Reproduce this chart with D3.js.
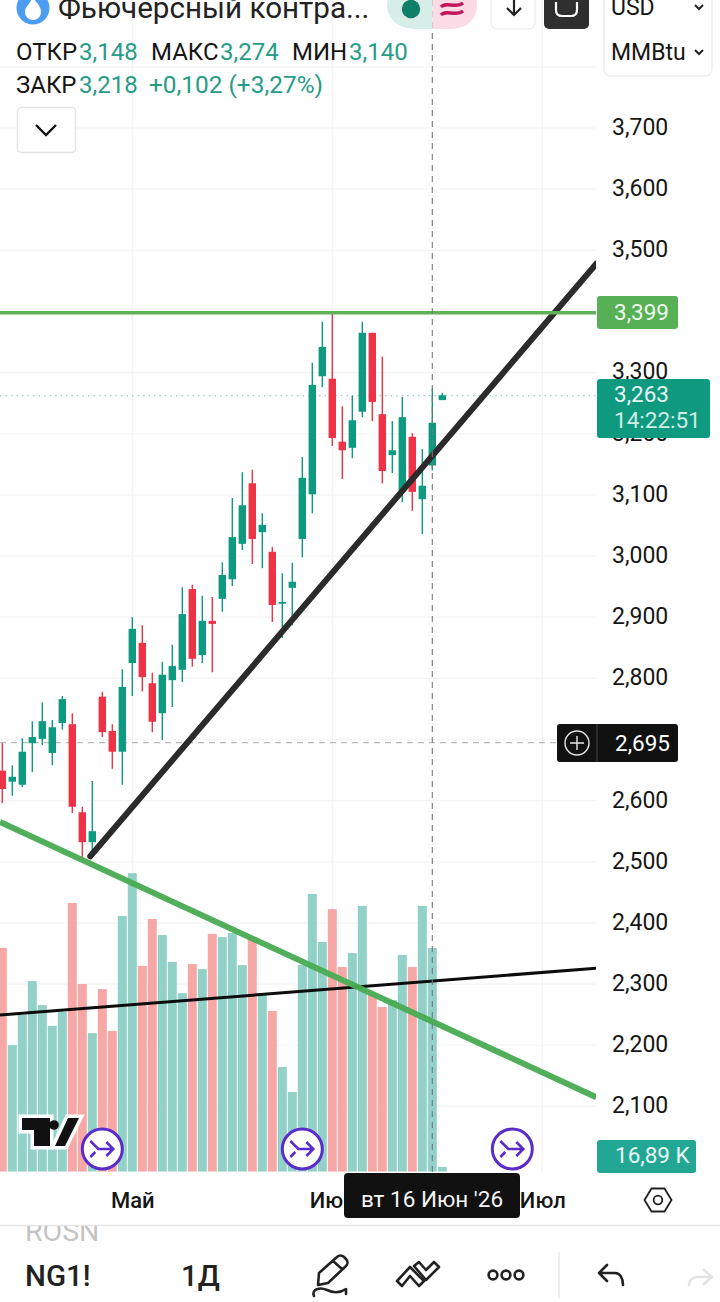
<!DOCTYPE html>
<html lang="ru">
<head>
<meta charset="utf-8">
<title>NG1!</title>
<script src="https://cdn.jsdelivr.net/npm/d3@7"></script>
<style>
html,body{margin:0;padding:0;background:#fff;overflow:hidden}
svg{display:block;font-family:Roboto,"Noto Sans",sans-serif}
</style>
</head>
<body>
<svg id="c" width="720" height="1302"></svg>
<script>
// ---- data ----
const opens  = [2.649,2.631,2.626,2.694,2.701,2.678,2.727,2.725,2.581,2.532,2.770,2.714,2.680,2.825,2.858,2.792,2.743,2.797,2.814,2.946,2.838,2.894,2.930,2.962,3.020,3.119,3.039,3.007,2.922,2.948,3.028,3.101,3.294,3.290,3.187,3.177,3.236,3.365,3.232,3.165,3.106,3.195,3.093,3.148,3.255];
const highs  = [2.694,2.658,2.702,2.730,2.761,2.732,2.771,2.743,2.590,2.632,2.778,2.725,2.815,2.900,2.887,2.809,2.827,2.855,2.949,2.953,2.935,2.933,2.990,3.095,3.137,3.141,3.070,3.015,2.972,2.989,3.162,3.316,3.383,3.397,3.245,3.262,3.383,3.365,3.326,3.221,3.260,3.201,3.175,3.274,3.267];
const lows   = [2.596,2.608,2.622,2.647,2.691,2.658,2.716,2.580,2.506,2.508,2.704,2.652,2.626,2.771,2.779,2.712,2.699,2.753,2.794,2.819,2.825,2.810,2.909,2.951,3.010,2.987,2.980,2.892,2.866,2.887,2.998,3.070,3.276,3.180,3.126,3.160,3.227,3.221,3.119,3.136,3.088,3.074,3.036,3.140,3.255];
const closes = [2.619,2.639,2.680,2.704,2.730,2.720,2.766,2.590,2.532,2.550,2.712,2.680,2.786,2.881,2.802,2.729,2.806,2.820,2.905,2.832,2.894,2.889,2.969,3.031,3.083,3.028,3.051,2.920,2.925,2.958,3.128,3.280,3.342,3.193,3.173,3.222,3.365,3.252,3.139,3.173,3.227,3.105,3.115,3.218,3.263];
const volumes = [839,474,587,714,624,546,598,1007,703,519,684,527,958,1119,771,947,887,786,669,778,759,891,879,894,774,879,669,602,392,298,774,1041,861,984,767,819,996,662,617,643,812,767,996,838,16.89];

const priceTicks = [3.7,3.6,3.5,3.4,3.3,3.2,3.1,3.0,2.9,2.8,2.7,2.6,2.5,2.4,2.3,2.2,2.1];
const gridPrices = [3.8,3.7,3.6,3.5,3.4,3.3,3.2,3.1,3.0,2.9,2.8,2.7,2.6,2.5,2.4,2.3,2.2,2.1];
const monthTickIndex = [13,33,54];
const monthTickLabels = ["Май","Июн","Июл"];
const eventIndex = [10,30,51];

const levelPrice = 3.399;
const lastPrice = 3.263;
const crosshairPrice = 2.695;
const crosshairIndex = 43;
const thickBlackTrend = [[8.8,2.509],[59.4,3.478]];
const greenTrend = [[-0.23,2.565],[59.4,2.115]];
const thinBlackTrend = [[-0.23,2.2495],[59.4,2.326]];

const legendRow1 = [["ОТКР","3,148"],["МАКС","3,274"],["МИН","3,140"]];
const legendRow2 = ["ЗАКР","3,218","+0,102 (+3,27%)"];

// ---- scales ----
const x = d3.scaleLinear().domain([0,44]).range([2.3,442.3]);
const y = d3.scaleLinear().domain([3.7,2.1]).range([128,1106.4]);
const v = d3.scaleLinear().domain([0,1200]).range([1171.5,851.5]);

const UP="#0d9a80", DOWN="#ee3347", VUP="#92d1c7", VDOWN="#f7a8a6", INK="#161616";
const fmt = p => d3.format(".3f")(p).replace(".",",");
const idx = d3.range(opens.length);

const svg = d3.select("#c");
const defs = svg.append("defs");
defs.append("clipPath").attr("id","plot").append("rect").attr("x",0).attr("y",0).attr("width",596).attr("height",1172);

// ---- grid ----
const grid = svg.append("g");
grid.selectAll("line.h").data(gridPrices).join("line").attr("class","h")
  .attr("x1",0).attr("x2",596).attr("y1",d=>y(d)).attr("y2",d=>y(d)).attr("stroke","#f4f4f4").attr("stroke-width",1.2);
grid.selectAll("line.v").data(monthTickIndex).join("line").attr("class","v")
  .attr("x1",d=>x(d)).attr("x2",d=>x(d)).attr("y1",0).attr("y2",1172).attr("stroke","#f2f2f2").attr("stroke-width",1.2);

const plot = svg.append("g").attr("clip-path","url(#plot)");

// ---- volume ----
plot.append("g").selectAll("rect").data(idx).join("rect")
  .attr("x",i=>x(i)-4.5).attr("width",9)
  .attr("y",i=>v(volumes[i])).attr("height",i=>v(0)-v(volumes[i]))
  .attr("fill",i=>closes[i]>=opens[i]?VUP:VDOWN);

// ---- crosshair horizontal and price line ----
plot.append("line").attr("x1",0).attr("x2",557).attr("y1",y(crosshairPrice)).attr("y2",y(crosshairPrice))
  .attr("stroke","#b9b9b9").attr("stroke-width",1.3).attr("stroke-dasharray","6 5");
plot.append("line").attr("x1",0).attr("x2",596).attr("y1",y(lastPrice)+0.5).attr("y2",y(lastPrice)+0.5)
  .attr("stroke","#7fbfb3").attr("stroke-width",1.2).attr("stroke-dasharray","1.5 4");

// ---- candles ----
const candles = plot.append("g").selectAll("g").data(idx).join("g");
candles.append("line")
  .attr("x1",i=>x(i)).attr("x2",i=>x(i)).attr("y1",i=>y(highs[i])).attr("y2",i=>y(lows[i]))
  .attr("stroke",i=>closes[i]>=opens[i]?UP:DOWN).attr("stroke-width",1.4);
candles.append("rect")
  .attr("x",i=>x(i)-3.7).attr("width",7.4)
  .attr("y",i=>y(Math.max(opens[i],closes[i])))
  .attr("height",i=>Math.max(1.5,Math.abs(y(opens[i])-y(closes[i]))))
  .attr("fill",i=>closes[i]>=opens[i]?UP:DOWN);

// ---- drawn lines ----
const trend = d3.line().x(d=>x(d[0])).y(d=>y(d[1]));
plot.append("path").attr("d",trend(thinBlackTrend)).attr("stroke","#0c0c0c").attr("stroke-width",3).attr("fill","none");
plot.append("path").attr("d",trend(greenTrend)).attr("stroke","#48ab52").attr("stroke-opacity",.95).attr("stroke-width",6).attr("fill","none");
plot.append("path").attr("d",trend(thickBlackTrend)).attr("stroke","#2b2b2b").attr("stroke-width",6).attr("fill","none").attr("stroke-linecap","round");
plot.append("line").attr("x1",0).attr("x2",596).attr("y1",y(levelPrice)+0.7).attr("y2",y(levelPrice)+0.7).attr("stroke","#62b058").attr("stroke-width",3.4);

// ---- crosshair vertical ----
svg.append("line").attr("x1",x(crosshairIndex)).attr("x2",x(crosshairIndex)).attr("y1",0).attr("y2",1172)
  .attr("stroke","#777").attr("stroke-width",1.1).attr("stroke-dasharray","6 5");

// ---- TV logo and event markers ----
const logo = svg.append("g");
["22,1118 50,1118 50,1146 34,1146 34,1130 22,1130","68,1118 79,1118 65,1146 55,1146"].forEach(pts=>{
  logo.append("polygon").attr("points",pts).attr("fill","#111").attr("stroke","#fff").attr("stroke-width",7).attr("stroke-linejoin","miter").attr("paint-order","stroke");
});
logo.append("circle").attr("cx",54).attr("cy",1125).attr("r",4.8).attr("fill","#111");
const ev = svg.append("g").selectAll("g").data(eventIndex).join("g")
  .attr("transform",d=>`translate(${x(d)},1149)`);
ev.append("circle").attr("r",20).attr("fill","#fff").attr("stroke","#5a2cc9").attr("stroke-width",3);
ev.append("path").attr("d","M-12,-8L-4,0L11,0M4,-7L11,0L4,7M-12,8L-7,3").attr("fill","none").attr("stroke","#5a2cc9").attr("stroke-width",2.6);

// ---- right price axis ----
svg.append("rect").attr("x",596).attr("y",0).attr("width",124).attr("height",1172).attr("fill","#fff");
const axisR = d3.axisRight(y).tickValues(priceTicks).tickSize(0).tickPadding(0).tickFormat(d=>fmt(d));
const gAxis = svg.append("g").attr("transform","translate(612,-1)").call(axisR);
gAxis.select(".domain").remove();
gAxis.selectAll("text").attr("font-size",23).attr("fill",INK).attr("font-family","Roboto");

// tags
function tag(xx,yy,w,h,fill,r){svg.append("rect").attr("x",xx).attr("y",yy).attr("width",w).attr("height",h).attr("rx",r||3).attr("fill",fill);}
function txt(s,xx,yy,size,fill,o){const t=svg.append("text").attr("x",xx).attr("y",yy).attr("font-size",size).attr("fill",fill).text(s);
  if(o) Object.entries(o).forEach(([k,a])=>t.attr(k,a)); return t;}
tag(597,296,81,33,"#57b055");
txt(fmt(levelPrice),614,320,22.5,"#eef8ee");
tag(597,379,113,59,"#0f9a80");
txt(fmt(lastPrice),614,402,22.5,"#e8f7f3");
txt("14:22:51",614,428,22.5,"#cfeee7");
tag(597,1140,99,33,"#23a795");
txt("16,89 K",615,1163,22.5,"#e8f7f3");
// crosshair tag
tag(557,724,121,38,"#111");
svg.append("line").attr("x1",597).attr("x2",597).attr("y1",724).attr("y2",762).attr("stroke","#444");
svg.append("circle").attr("cx",577).attr("cy",743).attr("r",12).attr("fill","none").attr("stroke","#e8e8e8").attr("stroke-width",1.4);
svg.append("path").attr("d","M570,743H584M577,736V750").attr("stroke","#e8e8e8").attr("stroke-width",1.4);
txt(fmt(crosshairPrice),615,751,22.5,"#fff");

// ---- time axis ----
svg.append("rect").attr("x",0).attr("y",1173).attr("width",720).attr("height",129).attr("fill","#fff");
const axisB = d3.axisBottom(x).tickValues(monthTickIndex).tickSize(0).tickPadding(0).tickFormat((d,i)=>monthTickLabels[i]);
const gB = svg.append("g").attr("transform","translate(0,1192)").call(axisB);
gB.select(".domain").remove();
gB.selectAll("text").attr("font-size",22).attr("font-weight",500).attr("fill",INK).attr("font-family","Roboto");
tag(344,1173,176,45,"#111",4);
txt("вт 16 Июн '26",432,1207,22.5,"#f4f4f4",{"text-anchor":"middle"});
svg.append("path").attr("d","M644.500,1200L651.500,1188.500H664.500L671.500,1200L664.500,1211.500H651.500Z").attr("fill","none").attr("stroke","#222").attr("stroke-width",1.8);
svg.append("circle").attr("cx",658).attr("cy",1200).attr("r",4.3).attr("fill","none").attr("stroke","#222").attr("stroke-width",1.8);

// ---- bottom toolbar ----
svg.append("line").attr("x1",0).attr("x2",720).attr("y1",1225.500).attr("y2",1225.500).attr("stroke","#e6e6e6").attr("stroke-width",1.5);
defs.append("clipPath").attr("id","bot").append("rect").attr("x",0).attr("y",1226).attr("width",720).attr("height",76);
svg.append("g").attr("clip-path","url(#bot)").append("text").attr("x",25).attr("y",1241).attr("font-size",28.5).attr("fill","#c4c4c4").text("ROSN");
txt("NG1!",25,1286,29.5,"#222",{"font-weight":500});
txt("1Д",181,1286,29.5,"#222",{"font-weight":500});
const ic = svg.append("g").attr("fill","none").attr("stroke","#222").attr("stroke-width",2.6).attr("stroke-linejoin","round").attr("stroke-linecap","round");
ic.append("path").attr("d","M319,1273L337,1257C339,1255 342,1255 344,1257L346,1259C348,1261 348,1264 346,1266L328,1283L318,1285ZM333,1261L342,1269");
ic.append("path").attr("d","M314,1296C311,1289 320,1287 327,1290C333,1293 340,1293 346,1289L346,1294");
ic.append("path").attr("d","M397,1281L410,1267L424,1281L419,1286L410,1276L402,1286Z");
ic.append("path").attr("d","M414,1266L419,1262L426,1270L434,1262L439,1267L426,1280Z");
[493,506,519].forEach(cx=>ic.append("circle").attr("cx",cx).attr("cy",1275).attr("r",4.4));
ic.append("path").attr("d","M599,1273L607,1265M599,1273L607,1281M599,1273H615C620,1273 623,1278 623,1285");
ic.append("path").attr("d","M712,1277L704,1270M712,1277L704,1284M712,1277H698C693,1277 689,1280 689,1285").attr("stroke","#e4e4e4");
svg.append("line").attr("x1",559).attr("x2",559).attr("y1",1252).attr("y2",1298).attr("stroke","#e8e8e8").attr("stroke-width",1.5);

// ---- header ----
svg.append("circle").attr("cx",33).attr("cy",8).attr("r",16.5).attr("fill","#4a9df0");
svg.append("path").attr("d","M33,-3C35,2 41,5 41,12C41,17 37,20 33,20C29,20 25,17 25,12C25,7 29,5 33,-3Z").attr("fill","#fff");
txt("Фьючерсный контра...",58,18,29.6,"#222");
svg.append("path").attr("d","M416,-20H432.500V29H416C400,29 387,20 387,5C387,-10 400,-20 416,-20Z").attr("fill","#d6ede8");
svg.append("path").attr("d","M432.500,-20H450C466,-20 477,-10 477,5C477,20 466,29 450,29H432.500Z").attr("fill","#fbdbe6");
svg.append("circle").attr("cx",411).attr("cy",9).attr("r",9.2).attr("fill","#0f7f68");
svg.append("path").attr("d","M441,7C446,1 456,9 463,3M441,15C446,9 456,17 463,11").attr("fill","none").attr("stroke","#c2185b").attr("stroke-width",3.4);
svg.append("rect").attr("x",491).attr("y",-18).attr("width",44).attr("height",47).attr("rx",6).attr("fill","#fff").attr("stroke","#f0f0f0").attr("stroke-width",1.5);
svg.append("path").attr("d","M514,-3V15M507,8L514,15L521,8").attr("fill","none").attr("stroke","#222").attr("stroke-width",2.2);
svg.append("rect").attr("x",544).attr("y",-18).attr("width",45).attr("height",47).attr("rx",5).attr("fill","#2f2f2f");
svg.append("path").attr("d","M556,2V10C556,14 558,16 562,16H571C575,16 577,14 577,10V2").attr("fill","none").attr("stroke","#fff").attr("stroke-width",2.2);
svg.append("rect").attr("x",604).attr("y",-20).attr("width",108).attr("height",96).attr("rx",7).attr("fill","#fff").attr("stroke","#eeeeee").attr("stroke-width",1.5);
txt("USD",611,15,23,INK);
txt("MMBtu",611,60,23,INK);
svg.append("path").attr("d","M695,5L699,9L703,5").attr("fill","none").attr("stroke","#222").attr("stroke-width",2);
svg.append("path").attr("d","M695,50L699,54L703,50").attr("fill","none").attr("stroke","#222").attr("stroke-width",2);

// legend
const legendColor="#279c86";
const row1X=[[16,79],[151,220],[292,349]];
legendRow1.forEach((d,i)=>{txt(d[0],row1X[i][0],60,24,INK);txt(d[1],row1X[i][1],60,24,legendColor);});
txt(legendRow2[0],16,93,24,INK);txt(legendRow2[1],79,93,24,legendColor);txt(legendRow2[2],149,93,24.4,legendColor);

svg.append("rect").attr("x",17.500).attr("y",107.500).attr("width",58).attr("height",45).attr("rx",4).attr("fill","#fff").attr("stroke","#e3e3e3").attr("stroke-width",1.4);
svg.append("path").attr("d","M36,125L46,135L56,125").attr("fill","none").attr("stroke","#111").attr("stroke-width",2.4);
</script>
</body>
</html>
